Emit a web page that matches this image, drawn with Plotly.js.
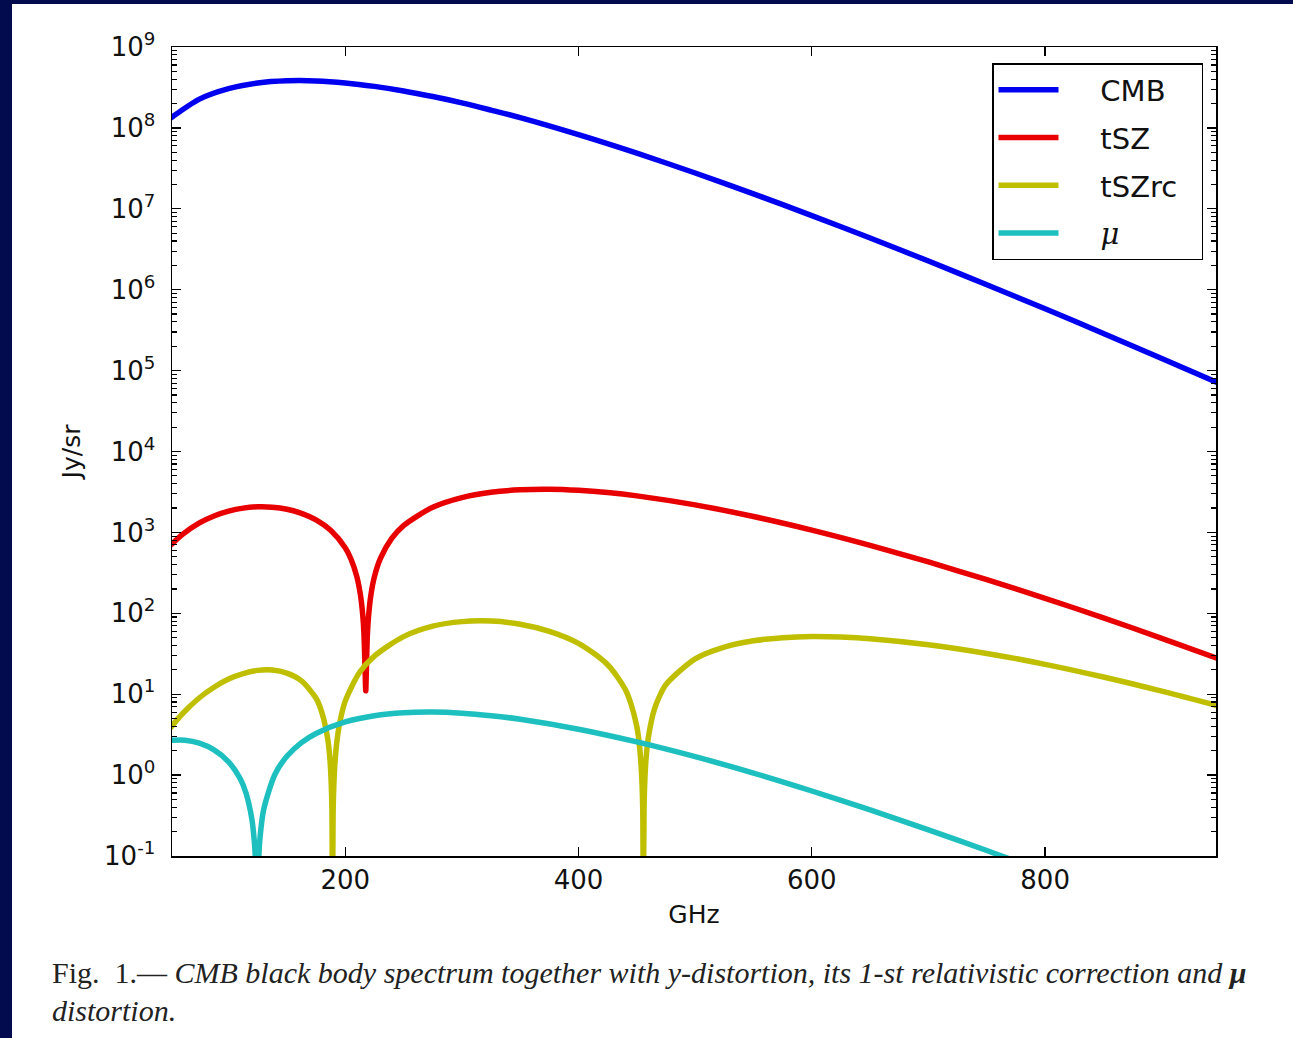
<!DOCTYPE html>
<html>
<head>
<meta charset="utf-8">
<script src="https://cdn.plot.ly/plotly-3.0.1.min.js"></script>
<style>
  html, body { margin: 0; padding: 0; background: #020b4d; width: 1293px; height: 1038px; overflow: hidden; }
  #chart { position: absolute; left: 12px; top: 4px; width: 1281px; height: 1034px; background: #ffffff; }
</style>
</head>
<body>
<div id="chart"></div>
<script>
// ---- data (GHz, Jy/sr) ----
const cmbFreq = [50, 75, 100, 125, 150, 175, 200, 225, 250, 275, 300, 325, 350, 400, 450, 500, 550, 600, 650, 700, 750, 800, 850, 900, 950];
const cmbVal  = [1.31e8, 2.27e8, 3.06e8, 3.59e8, 3.82e8, 3.81e8, 3.60e8, 3.26e8, 2.86e8, 2.44e8, 2.04e8, 1.66e8, 1.34e8, 8.25e7, 4.87e7, 2.77e7, 1.53e7, 8.25e6, 4.35e6, 2.26e6, 1.15e6, 5.81e5, 2.88e5, 1.41e5, 6.87e4];

const tszFreq = [50, 60, 75, 87.5, 100, 112.5, 125, 137.5, 150, 162.5, 175, 187.5, 200, 205, 210, 213, 215, 216, 217, 217.6, 218, 219, 220, 222, 225, 230, 240, 250, 275, 300, 325, 350, 375, 400, 425, 450, 500, 550, 600, 650, 700, 750, 800, 850, 900, 950];
const tszVal  = [686, 931, 1307, 1596, 1832, 1995, 2072, 2050, 1933, 1721, 1427, 1061, 644, 465, 282, 170, 96, 58, 21, 11, 17, 55, 92, 168, 282, 471, 847, 1213, 2041, 2691, 3132, 3365, 3418, 3315, 3110, 2829, 2188, 1572, 1067, 691, 431, 260, 153, 88, 49, 27];

const tszrcFreq = [50, 60, 75, 87.5, 100, 112.5, 125, 137.5, 150, 162.5, 175, 180, 185, 187, 188, 188.6, 189.1, 189.6, 190, 191, 192.5, 195, 200, 212.5, 225, 250, 275, 300, 325, 350, 375, 400, 425, 440, 445, 450, 452, 454, 455, 455.6, 456.2, 457, 458, 460, 465, 470, 475, 500, 525, 550, 575, 600, 625, 650, 700, 750, 800, 850, 900, 950];
const tszrcVal  = [3.81, 5.65, 9.04, 12.2, 15.4, 18.0, 19.7, 19.9, 18.2, 14.6, 8.9, 5.93, 2.80, 1.50, 0.78, 0.39, 0.02, 0.33, 0.60, 1.27, 2.35, 4.2, 8.2, 18.8, 29.6, 51.5, 69.3, 78.9, 80.1, 73.4, 59.9, 42.5, 23.1, 11.5, 7.57, 3.97, 2.5, 1.07, 0.42, 0.02, 0.42, 0.97, 1.66, 3.0, 6.5, 9.8, 13.2, 27.4, 38.3, 45.8, 49.9, 51.6, 50.9, 48.6, 40.9, 31.9, 23.4, 16.3, 10.9, 7.07];

const muFreq = [50, 62.5, 75, 87.5, 100, 110, 115, 120, 122, 123, 124.4, 126, 127, 130, 140, 150, 162.5, 175, 200, 225, 250, 275, 300, 325, 350, 400, 450, 500, 550, 600, 650, 700, 750, 800, 850];
const muVal  = [2.69, 2.70, 2.48, 2.05, 1.46, 0.90, 0.597, 0.284, 0.155, 0.091, 0.005, 0.104, 0.171, 0.37, 1.04, 1.71, 2.52, 3.27, 4.54, 5.42, 5.90, 6.01, 5.82, 5.42, 4.90, 3.69, 2.57, 1.69, 1.06, 0.636, 0.371, 0.210, 0.117, 0.063, 0.034];

const seriesNames = ['CMB', 'tSZ', 'tSZrc', '<span style="font-family:\'DejaVu Serif\'"><i>μ</i></span>'];
const seriesColors = ['#0000f0', '#e80000', '#bfbf00', '#1dbfbf'];

const xTickVals = [200, 400, 600, 800];
const xTickText = ['200', '400', '600', '800'];
const yExponents = [-1, 0, 1, 2, 3, 4, 5, 6, 7, 8, 9];

// ---- tick helpers (styling only) ----
const yTickVals = yExponents.map(e => Math.pow(10, e));
const yTickText = yExponents.map(e => '10<sup>' + e + '</sup>');
const yMinorVals = [];
for (let e = -1; e < 9; e++) for (let d = 2; d <= 9; d++) yMinorVals.push(d * Math.pow(10, e));

// pixel -> paper helpers for annotation placement
const PL = 172, PR = 1216, PT = 47, PB = 856;
const px = x => (x - PL) / (PR - PL);
const py = y => (PB - y) / (PB - PT);

const NB = '\u00a0';
const xs = [cmbFreq, tszFreq, tszrcFreq, muFreq];
const ys = [cmbVal, tszVal, tszrcVal, muVal];
const traces = xs.map((x, i) => ({
  type: 'scatter', mode: 'lines', x: x, y: ys[i],
  name: NB + NB + NB + NB + seriesNames[i] + NB + NB,
  legendgroup: 'g' + i,
  line: { color: seriesColors[i], width: 5.5, shape: 'spline', smoothing: 0.8 },
  hoverinfo: 'x+y'
}));

const axisFont = { family: 'DejaVu Sans', size: 26, color: '#111111' };

const layout = {
  width: 1281, height: 1034,
  margin: { l: 160, r: 77, t: 43, b: 182, pad: 0 },
  paper_bgcolor: '#ffffff', plot_bgcolor: '#ffffff',
  showlegend: true,
  legend: {
    x: px(992), y: py(63), xanchor: 'left', yanchor: 'top',
    bgcolor: '#ffffff', bordercolor: '#000000', borderwidth: 1.5,
    font: { family: 'DejaVu Sans', size: 29, color: '#111111' },
    itemwidth: 60, tracegroupgap: 7
  },
  xaxis: {
    type: 'linear', range: [51.5, 946.5],
    tickmode: 'array', tickvals: xTickVals, ticktext: xTickText,
    ticks: 'inside', ticklen: 9, tickwidth: 1.3, tickcolor: '#000',
    showline: true, linecolor: '#000', linewidth: 1.5, mirror: 'ticks',
    showgrid: false, zeroline: false,
    tickfont: axisFont, ticklabelstandoff: 0,
    title: { text: 'GHz', font: { family: 'DejaVu Sans', size: 25, color: '#111111' }, standoff: 12 }
  },
  yaxis: {
    type: 'log', range: [-1, 9],
    tickmode: 'array', tickvals: yTickVals, ticktext: yTickText,
    ticks: 'inside', ticklen: 9, tickwidth: 1.3, tickcolor: '#000',
    minor: { tickmode: 'array', tickvals: yMinorVals, ticks: 'inside', ticklen: 5, tickwidth: 1.1, tickcolor: '#000', showgrid: false },
    showline: true, linecolor: '#000', linewidth: 1.5, mirror: 'ticks',
    showgrid: false, zeroline: false,
    tickfont: axisFont, ticklabelstandoff: 10,
    title: { text: 'Jy/sr', font: { family: 'DejaVu Sans', size: 25, color: '#111111' }, standoff: 16 }
  },
  annotations: [
    {
      xref: 'paper', yref: 'paper', x: px(50), y: py(972), xanchor: 'left', yanchor: 'middle',
      showarrow: false,
      text: 'Fig.  1.— <i>CMB black body spectrum together with y-distortion, its 1-st relativistic correction and </i><b><i>μ</i></b>',
      font: { family: 'Liberation Serif', size: 30, color: '#222222' }
    },
    {
      xref: 'paper', yref: 'paper', x: px(50), y: py(1010), xanchor: 'left', yanchor: 'middle',
      showarrow: false,
      text: '<i>distortion.</i>',
      font: { family: 'Liberation Serif', size: 30, color: '#222222' }
    }
  ]
};

Plotly.newPlot('chart', traces, layout, { displayModeBar: false, staticPlot: true });
</script>
</body>
</html>
